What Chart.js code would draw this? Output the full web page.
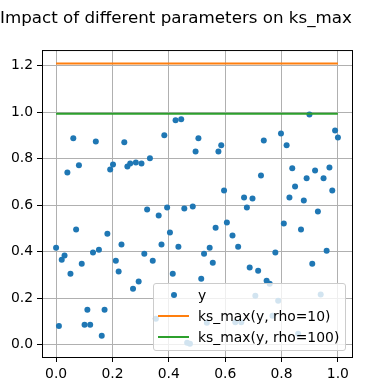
<!DOCTYPE html>
<html>
<head>
<meta charset="utf-8">
<script src="https://cdn.jsdelivr.net/npm/chart.js@4/dist/chart.umd.min.js"></script>
<style>
  html, body { margin: 0; padding: 0; background: #fff; }
  #wrap { position: relative; width: 377px; height: 391px; }
  #legend {
    position: absolute; left: 153px; top: 283px; width: 191px; height: 66px;
    background: rgba(255,255,255,0.8); border: 1px solid #cccccc; border-radius: 3px;
    font-family: 'DejaVu Sans', sans-serif; font-size: 13.9px; color: #000;
  }
  #legend .row { position: absolute; left: 0; height: 20px; line-height: 20px; width: 100%; }
  #legend .txt { position: absolute; left: 44px; top: 0; white-space: nowrap; }
  #legend .dot { position: absolute; left: 17px; top: 7px; width: 6px; height: 6px; border-radius: 50%; background: #1f77b4; }
  #legend .ln { position: absolute; left: 4px; top: 9px; width: 31px; height: 2px; }
</style>
</head>
<body>
<div id="wrap">
  <canvas id="chart" width="377" height="391"></canvas>
  <div id="legend">
    <div class="row" style="top:1px"><span class="dot"></span><span class="txt">y</span></div>
    <div class="row" style="top:22px"><span class="ln" style="background:#ff7f0e"></span><span class="txt">ks_max(y, rho=10)</span></div>
    <div class="row" style="top:43px"><span class="ln" style="background:#2ca02c"></span><span class="txt">ks_max(y, rho=100)</span></div>
  </div>
</div>
<script>
// valeurs (x de 0 à 1, un point manque sous une autre marque)
const xValues = [
  0.000, 0.010, 0.020, 0.030, 0.040, 0.051, 0.061, 0.071, 0.081, 0.091,
  0.101, 0.111, 0.121, 0.131, 0.141, 0.152, 0.162, 0.172, 0.182, 0.192,
  0.202, 0.212, 0.222, 0.232, 0.242, 0.253, 0.263, 0.273, 0.283, 0.293,
  0.303, 0.313, 0.323, 0.333, 0.343, 0.354, 0.364, 0.374, 0.384, 0.394,
  0.404, 0.414, 0.424, 0.434, 0.444, 0.455, 0.465, 0.475, 0.485, 0.495,
  0.505, 0.515, 0.525, 0.535, 0.545, 0.556, 0.566, 0.576, 0.586, 0.596,
  0.606, 0.626, 0.636, 0.646, 0.657, 0.667, 0.677, 0.687, 0.697,
  0.707, 0.717, 0.727, 0.737, 0.747, 0.758, 0.768, 0.778, 0.788, 0.798,
  0.808, 0.818, 0.828, 0.838, 0.848, 0.859, 0.869, 0.879, 0.889, 0.899,
  0.909, 0.919, 0.929, 0.939, 0.949, 0.960, 0.970, 0.980, 0.990, 1.000
];
const yValues = [
  0.418, 0.081, 0.366, 0.384, 0.741, 0.306, 0.888, 0.496, 0.772, 0.349,
  0.086, 0.151, 0.086, 0.397, 0.875, 0.409, 0.039, 0.151, 0.478, 0.754,
  0.776, 0.362, 0.315, 0.431, 0.871, 0.767, 0.780, 0.241, 0.784, 0.272,
  0.780, 0.392, 0.582, 0.802, 0.362, 0.112, 0.556, 0.431, 0.901, 0.591,
  0.483, 0.306, 0.966, 0.422, 0.970, 0.586, 0.009, 0.004, 0.595, 0.832,
  0.888, 0.284, 0.392, 0.095, 0.418, 0.353, 0.504, 0.832, 0.858, 0.664,
  0.526, 0.470, 0.097, 0.422, 0.097, 0.634, 0.591, 0.332, 0.629,
  0.211, 0.319, 0.728, 0.879, 0.276, 0.263, 0.125, 0.397, 0.190, 0.909,
  0.522, 0.858, 0.634, 0.759, 0.681, 0.047, 0.496, 0.621, 0.716, 0.991,
  0.349, 0.750, 0.573, 0.216, 0.716, 0.405, 0.763, 0.664, 0.922, 0.892
];
const lineX = [0, 1];
const ksRho10 = 1.21;
const ksRho100 = 0.994;
const xTicks = [0, 0.2, 0.4, 0.6, 0.8, 1.0];
const yTicks = [0, 0.2, 0.4, 0.6, 0.8, 1.0, 1.2];

Chart.defaults.font.family = "'DejaVu Sans', sans-serif";
Chart.defaults.color = '#000';

const points = xValues.map((x, i) => ({ x: x, y: yValues[i] }));

// cadre complet autour de la zone de tracé
const frame = {
  id: 'frame',
  afterDatasetsDraw(chart) {
    const a = chart.chartArea, c = chart.ctx;
    c.save();
    c.strokeStyle = '#000';
    c.lineWidth = 1;
    c.strokeRect(a.left + 0.5, a.top + 0.5, a.right - a.left, a.bottom - a.top);
    c.restore();
  }
};

const ctx = document.getElementById('chart').getContext('2d');
new Chart(ctx, {
  type: 'scatter',
  data: {
    datasets: [
      {
        label: 'y',
        data: points,
        backgroundColor: '#1f77b4',
        borderColor: '#1f77b4',
        pointRadius: 3,
        borderWidth: 0,
        order: 3
      },
      {
        label: 'ks_max(y, rho=10)',
        data: lineX.map(x => ({ x: x, y: ksRho10 })),
        showLine: true,
        borderColor: '#ff7f0e',
        borderWidth: 2,
        pointRadius: 0,
        order: 2
      },
      {
        label: 'ks_max(y, rho=100)',
        data: lineX.map(x => ({ x: x, y: ksRho100 })),
        showLine: true,
        borderColor: '#2ca02c',
        borderWidth: 2,
        pointRadius: 0,
        order: 1
      }
    ]
  },
  options: {
    responsive: false,
    animation: false,
    layout: { padding: { left: 0, right: 25, top: 0, bottom: 0 } },
    plugins: {
      legend: { display: false },
      tooltip: { enabled: false },
      title: {
        display: true,
        text: 'Impact of different parameters on ks_max',
        font: { size: 16.7, weight: 'normal' },
        color: '#000',
        padding: { top: 9, bottom: 21 }
      }
    },
    scales: {
      x: {
        type: 'linear',
        min: -0.05,
        max: 1.05,
        afterBuildTicks: (s) => { s.ticks = xTicks.map(v => ({ value: v })); },
        afterFit: (s) => { s.height = 34; },
        ticks: { callback: (v) => v.toFixed(1), font: { size: 13.9 }, color: '#000', padding: 4, maxRotation: 0 },
        grid: { color: '#b0b0b0', lineWidth: 1, tickLength: 5, tickColor: '#000' },
        border: { color: '#000', width: 1 }
      },
      y: {
        type: 'linear',
        min: -0.0525,
        max: 1.268,
        afterBuildTicks: (s) => { s.ticks = yTicks.map(v => ({ value: v })); },
        afterFit: (s) => { s.width = 42; },
        ticks: { callback: (v) => v.toFixed(1), font: { size: 13.9 }, color: '#000', padding: 4 },
        grid: { color: '#b0b0b0', lineWidth: 1, tickLength: 5, tickColor: '#000' },
        border: { color: '#000', width: 1 }
      }
    }
  },
  plugins: [frame]
});
</script>
</body>
</html>
